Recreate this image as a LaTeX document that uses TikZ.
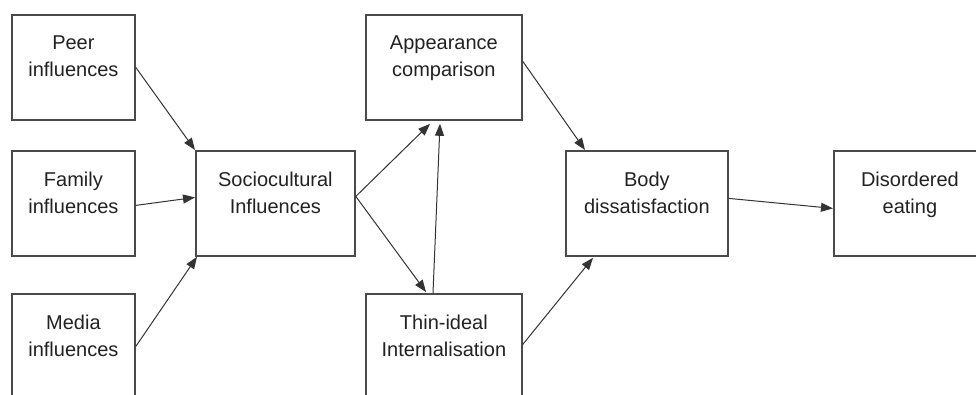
\documentclass[tikz,border=0pt]{standalone}
\usepackage{fontspec}
\setmainfont{Liberation Sans}
\usetikzlibrary{arrows.meta}
\definecolor{boxcol}{HTML}{4A4A4A}
\definecolor{txtcol}{HTML}{222222}
\definecolor{arrcol}{HTML}{333333}
\begin{document}
\begin{tikzpicture}[x=1pt,y=-1pt,
  box/.style={draw=boxcol, line width=1.8pt, fill=none, inner sep=0pt, anchor=north west},
  lbl/.style={text=txtcol, font=\fontsize{20}{27}\selectfont, align=center, inner sep=0pt, anchor=north},
  conn/.style={draw=arrcol, line width=1pt, -{Triangle[length=12pt,width=9pt]}}]
\useasboundingbox (0,0) rectangle (976,394);
\clip (0,0) rectangle (976,394);
\fill[white] (0,0) rectangle (976,394);
% boxes
\node[box, minimum width=123pt, minimum height=105pt] (peer) at (11,14) {};
\node[box, minimum width=123pt, minimum height=105pt] (family) at (11,150) {};
\node[box, minimum width=123pt, minimum height=105pt] (media) at (11,293) {};
\node[box, minimum width=159pt, minimum height=105pt] (socio) at (195,150) {};
\node[box, minimum width=156pt, minimum height=105pt] (app) at (365,14) {};
\node[box, minimum width=156pt, minimum height=105pt] (thin) at (365,293) {};
\node[box, minimum width=162pt, minimum height=105pt] (body) at (565,150) {};
\node[box, minimum width=152pt, minimum height=105pt] (dis) at (833,150) {};
% labels
\node[lbl] (peerT) at ([yshift=-22pt]peer.north) {Peer\\influences};
\node[lbl] (familyT) at ([yshift=-22pt]family.north) {Family\\influences};
\node[lbl] (mediaT) at ([yshift=-22pt]media.north) {Media\\influences};
\node[lbl] (socioT) at ([yshift=-22pt]socio.north) {Sociocultural\\Influences};
\node[lbl] (appT) at ([yshift=-22pt]app.north) {Appearance\\comparison};
\node[lbl] (thinT) at ([yshift=-22pt]thin.north) {Thin-ideal\\Internalisation};
\node[lbl] (bodyT) at ([yshift=-22pt]body.north) {Body\\dissatisfaction};
\node[lbl] (disT) at ([yshift=-22pt]dis.north) {Disordered\\eating};
% connectors
\draw[conn] (peer.east) -- (socio.north west);
\draw[conn] ([yshift=-2pt]family.east) -- ([yshift=6pt]socio.west);
\draw[conn] (media.east) -- ([xshift=2pt]socio.south west);
\draw[conn] ([yshift=7pt]socio.east) -- ([xshift=65pt,yshift=-3pt]app.south west);
\draw[conn] ([yshift=7pt]socio.east) -- ([xshift=61pt,yshift=1pt]thin.north west);
\draw[conn] ([xshift=68pt]thin.north west) -- ([xshift=75pt,yshift=-3pt]app.south west);
\draw[conn] ([yshift=6pt]app.east) -- ([xshift=20pt]body.north west);
\draw[conn] ([yshift=2pt]thin.east) -- ([xshift=28pt,yshift=-1pt]body.south west);
\draw[conn] ([yshift=5pt]body.east) -- ([yshift=-5pt]dis.west);
\end{tikzpicture}
\end{document}
